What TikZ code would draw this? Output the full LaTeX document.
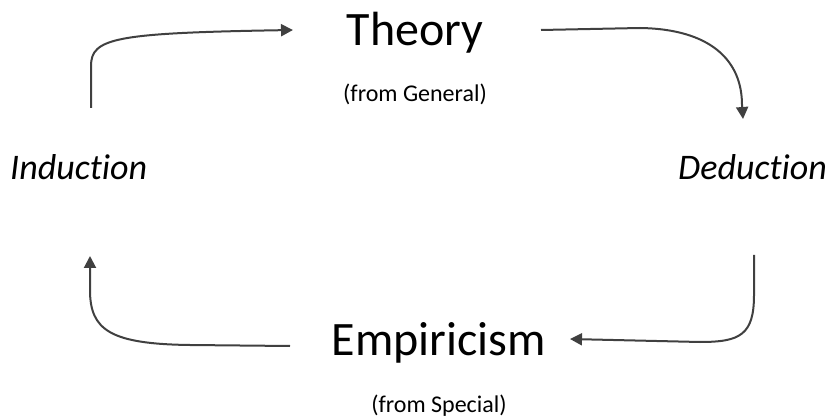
\documentclass[tikz,border=0pt]{standalone}
\usepackage{fontspec}
\setmainfont[Ligatures={NoCommon}]{Carlito}
\usetikzlibrary{arrows.meta}
\begin{document}
\begin{tikzpicture}[x=1pt,y=-1pt,
  big/.style={font=\fontsize{48}{52}\selectfont, inner sep=0pt, anchor=base},
  small/.style={font=\fontsize{24}{28}\selectfont, inner sep=0pt, anchor=base},
  side/.style={font=\fontsize{36}{42}\selectfont\itshape, inner sep=0pt, anchor=base},
  flow/.style={draw=black!75, line width=2pt, -{Triangle[length=12pt,width=12pt]}}]
\useasboundingbox (0,0) rectangle (829,419);
\node[big] (theory) at (415,46) {Theory};
\node[small] (gen) at (415,102) {(from General)};
\node[big] (emp) at (439,355) {Empiricism};
\node[small] (spec) at (439,412) {(from Special)};
\node[side, anchor=base west] (ind) at (10,180) {Induction};
\node[side, anchor=base east] (ded) at (827,180) {Deduction};
\coordinate (a1) at (91,108);
\coordinate (a2) at (293,30);
\coordinate (b1) at (541,30);
\coordinate (b2) at (743,119);
\coordinate (c1) at (754,255);
\coordinate (c2) at (570,339);
\coordinate (d1) at (290,346);
\coordinate (d2) at (90,256);
\draw[flow] (a1) -- (91,66) .. controls (91,38) and (115,33) .. (a2);
\draw[flow] (b1) -- (640,28) .. controls (710,29) and (742,60) .. (742,105) -- (b2);
\draw[flow] (c1) -- (754,295) .. controls (754,335) and (740,342) .. (700,342) -- (c2);
\draw[flow] (d1) -- (190,345) .. controls (110,344) and (90,330) .. (90,290) -- (d2);
\end{tikzpicture}
\end{document}
